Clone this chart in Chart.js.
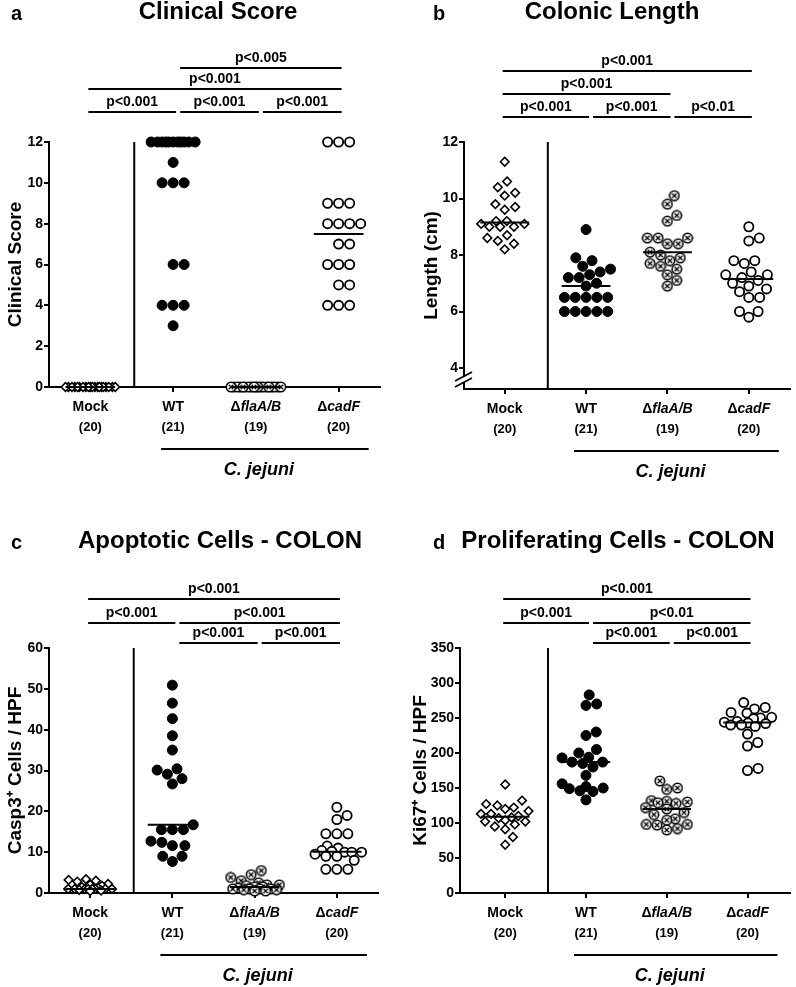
<!DOCTYPE html>
<html>
<head>
<meta charset="utf-8">
<script src="https://cdn.jsdelivr.net/npm/chart.js@4.4.1/dist/chart.umd.min.js"></script>
<style>
  body { margin: 0; background: #fff; }
  #wrap { position: relative; width: 796px; height: 987px; }
  canvas { position: absolute; }
</style>
</head>
<body>
<div id="wrap">
  <canvas id="pa" width="398" height="494" style="left:0;top:0"></canvas>
  <canvas id="pb" width="398" height="494" style="left:398px;top:0"></canvas>
  <canvas id="pc" width="398" height="494" style="left:0;top:493px"></canvas>
  <canvas id="pd" width="398" height="494" style="left:398px;top:493px"></canvas>
</div>
<script>
// groups and group sizes
const groups = ['Mock', 'WT', 'ΔflaA/B', 'ΔcadF'];
const groupN = ['(20)', '(21)', '(19)', '(20)'];
const infection = 'C. jejuni';

// a - clinical score
const scoreMock = [0, 0, 0, 0, 0, 0, 0, 0, 0, 0, 0, 0, 0, 0, 0, 0, 0, 0, 0, 0];
const scoreWT = [12, 12, 12, 12, 12, 12, 12, 12, 12, 12, 12, 11, 10, 10, 10, 6, 6, 4, 4, 4, 3];
const scoreFla = [0, 0, 0, 0, 0, 0, 0, 0, 0, 0, 0, 0, 0, 0, 0, 0, 0, 0, 0];
const scoreCad = [12, 12, 12, 9, 9, 9, 8, 8, 8, 8, 7, 7, 6, 6, 6, 5, 5, 4, 4, 4];
const scoreTicks = [0, 2, 4, 6, 8, 10, 12];
// [from group, to group, level, text]
const scoreP = [[0, 1, 0, 'p<0.001'], [1, 2, 0, 'p<0.001'], [2, 3, 0, 'p<0.001'],
                [0, 3, 1, 'p<0.001'], [1, 3, 2, 'p<0.005']];

// b - colonic length (cm)
const lengthMock = [11.3, 10.6, 10.4, 10.2, 10.1, 9.8, 9.7, 9.6, 9.2, 9.2, 9.1, 9.1, 9.0, 9.0, 9.0, 8.7, 8.6, 8.5, 8.4, 8.2];
const lengthWT = [8.9, 7.9, 7.8, 7.6, 7.5, 7.4, 7.3, 7.2, 7.2, 7.0, 6.9, 6.5, 6.5, 6.5, 6.5, 6.5, 6.0, 6.0, 6.0, 6.0, 6.0];
const lengthFla = [10.1, 9.8, 9.4, 9.2, 8.6, 8.6, 8.6, 8.4, 8.4, 8.1, 8.0, 7.9, 7.8, 7.7, 7.6, 7.5, 7.3, 7.1, 6.9];
const lengthCad = [9.0, 8.6, 8.5, 7.8, 7.8, 7.7, 7.4, 7.3, 7.3, 7.2, 7.1, 7.0, 6.9, 6.8, 6.7, 6.5, 6.5, 6.0, 6.0, 5.8];
const lengthTicks = [4, 6, 8, 10, 12];
const lengthP = [[0, 1, 0, 'p<0.001'], [1, 2, 0, 'p<0.001'], [2, 3, 0, 'p<0.01'],
                 [0, 2, 1, 'p<0.001'], [0, 3, 2, 'p<0.001']];

// c - Casp3+ cells / HPF
const caspMock = [3.4, 3.2, 3.0, 2.8, 2.2, 2.0, 1.8, 1.5, 1.2, 1.0, 1.0, 1.0, 1.0, 1.0, 1.0, 1.0, 1.0, 0.8, 0.6, 0.5];
const caspWT = [50.9, 46.5, 42.7, 38.5, 35.0, 30.4, 30.1, 29.1, 28.0, 26.7, 16.7, 15.5, 15.5, 15.5, 12.7, 12.4, 11.6, 11.6, 9.0, 9.0, 7.7];
const caspFla = [5.5, 4.5, 3.8, 3.0, 2.5, 2.0, 2.0, 1.8, 1.5, 1.5, 1.2, 1.0, 1.0, 1.0, 1.0, 0.8, 0.8, 0.5, 0.5];
const caspCad = [21.0, 19.0, 18.0, 14.5, 14.5, 14.5, 11.5, 11.0, 10.4, 10.2, 10.0, 10.0, 10.0, 9.5, 9.0, 9.0, 8.0, 5.8, 5.8, 5.8];
const caspTicks = [0, 10, 20, 30, 40, 50, 60];
const caspP = [[1, 2, 0, 'p<0.001'], [2, 3, 0, 'p<0.001'],
               [0, 1, 1, 'p<0.001'], [1, 3, 1, 'p<0.001'], [0, 3, 2, 'p<0.001']];

// d - Ki67+ cells / HPF
const ki67Mock = [155, 132, 127, 125, 122, 120, 117, 113, 113, 110, 108, 107, 104, 102, 102, 98, 95, 91, 80, 69];
const ki67WT = [283, 270, 268, 230, 225, 205, 200, 194, 193, 187, 187, 185, 180, 168, 156, 152, 150, 149, 146, 145, 133];
const ki67Fla = [160, 150, 148, 132, 131, 130, 129, 128, 122, 120, 115, 112, 106, 104, 98, 98, 97, 92, 90];
const ki67Cad = [272, 265, 263, 258, 257, 251, 250, 249, 245, 244, 243, 242, 240, 240, 238, 227, 215, 210, 178, 175];
const ki67Ticks = [0, 50, 100, 150, 200, 250, 300, 350];
const ki67P = [[1, 2, 0, 'p<0.001'], [2, 3, 0, 'p<0.001'],
               [0, 1, 1, 'p<0.001'], [1, 3, 1, 'p<0.01'], [0, 3, 2, 'p<0.001']];

const FONT = '"Liberation Sans", Arial, Helvetica, sans-serif';
Chart.defaults.font.family = FONT;
Chart.defaults.color = '#000';

const W = 398, H = 494;

const panels = {
  pa: { letter: 'a', letterX: 11, title: 'Clinical Score', titleX: 218, titleY: 12,
        yTitle: 'Clinical Score', area: { l: 49, t: 142, r: 380, b: 387 }, padLeft: 0,
        xMin: -0.5, xMax: 3.5, yMin: 0, yMax: 12, yTicks: scoreTicks,
        series: [scoreMock, scoreWT, scoreFla, scoreCad], pvals: scoreP, levels: [112, 89, 68] },
  pb: { letter: 'b', letterX: 35, title: 'Colonic Length', titleX: 214, titleY: 12,
        yTitle: 'Length (cm)', area: { l: 66, t: 142, r: 397, b: 389 }, padLeft: 18,
        xMin: -0.5, xMax: 3.5, yMin: 3.257, yMax: 12, yTicks: lengthTicks, axisBreak: true,
        series: [lengthMock, lengthWT, lengthFla, lengthCad], pvals: lengthP, levels: [117, 94, 71] },
  pc: { letter: 'c', letterX: 11, title: 'Apoptotic Cells - COLON', titleX: 220, titleY: 48,
        yTitle: 'Casp3⁺ Cells / HPF', area: { l: 49, t: 155, r: 378, b: 400 }, padLeft: 0,
        xMin: -0.5, xMax: 3.5, yMin: 0, yMax: 60, yTicks: caspTicks,
        series: [caspMock, caspWT, caspFla, caspCad], pvals: caspP, levels: [150, 130, 106] },
  pd: { letter: 'd', letterX: 35, title: 'Proliferating Cells - COLON', titleX: 220, titleY: 48,
        yTitle: 'Ki67⁺ Cells / HPF', area: { l: 62, t: 155, r: 398, b: 400 }, padLeft: 7,
        xMin: -0.56, xMax: 3.52, yMin: 0, yMax: 350, yTicks: ki67Ticks,
        series: [ki67Mock, ki67WT, ki67Fla, ki67Cad], pvals: ki67P, levels: [150, 130, 106] }
};

function makeCrossCircle() {
  const c = document.createElement('canvas');
  c.width = 12; c.height = 12;
  const g = c.getContext('2d');
  g.fillStyle = '#fff'; g.strokeStyle = '#000'; g.lineWidth = 1.6;
  g.beginPath(); g.arc(6, 6, 4.7, 0, Math.PI * 2); g.fill(); g.stroke();
  g.lineWidth = 1.3;
  const k = 2.3;
  g.beginPath();
  g.moveTo(6 - k, 6 - k); g.lineTo(6 + k, 6 + k);
  g.moveTo(6 + k, 6 - k); g.lineTo(6 - k, 6 + k);
  g.stroke();
  return c;
}

const markers = [
  { pointStyle: 'rectRot', pointRadius: 4.3, pointBackgroundColor: '#fff', pointBorderColor: '#000', pointBorderWidth: 1.6 },
  { pointStyle: 'circle', pointRadius: 5, pointBackgroundColor: '#000', pointBorderColor: '#000', pointBorderWidth: 1 },
  { pointStyle: makeCrossCircle(), pointRadius: 5.5 },
  { pointStyle: 'circle', pointRadius: 4.6, pointBackgroundColor: '#fff', pointBorderColor: '#000', pointBorderWidth: 1.8 }
];

// column scatter: spread points sideways (pixels) so they don't overlap, squeezing rows that get too wide
function swarm(vals, pxPerUnit, D, maxHalf) {
  const order = vals.map((v, i) => i).sort((i, j) => vals[i] - vals[j]);
  const placed = [], out = [];
  for (const i of order) {
    const y = vals[i] * pxPerUnit;
    let x = null;
    for (let d = D; x === null && d > 1; d *= 0.8) {
      const cands = [0];
      placed.forEach(q => {
        const dy = Math.abs(q.y - y);
        if (dy < d) {
          const dx = Math.sqrt(d * d - dy * dy);
          cands.push(q.x + dx, q.x - dx);
        }
      });
      cands.sort((u, v) => Math.abs(u) - Math.abs(v));
      for (const c of cands) {
        if (Math.abs(c) > maxHalf) break;
        if (placed.every(q => (q.x - c) ** 2 + (q.y - y) ** 2 >= d * d - 0.01)) { x = c; break; }
      }
    }
    if (x === null) x = 0;
    placed.push({ x, y });
    out[i] = x;
  }
  return out;
}

function median(v) {
  const s = [...v].sort((a, b) => a - b), n = s.length;
  return n % 2 ? s[(n - 1) / 2] : (s[n / 2 - 1] + s[n / 2]) / 2;
}

function drawGroupName(ctx, text, x, y) {
  let head = '', tail = text;
  if (text.startsWith('Δ')) { head = 'Δ'; tail = text.slice(1); }
  const f1 = 'bold 14px ' + FONT, f2 = 'italic bold 14px ' + FONT;
  ctx.font = f1;
  const w1 = ctx.measureText(head).width;
  ctx.font = head ? f2 : f1;
  const w2 = ctx.measureText(tail).width;
  const x0 = x - (w1 + w2) / 2;
  ctx.textAlign = 'left';
  ctx.font = f1; ctx.fillText(head, x0, y);
  ctx.font = head ? f2 : f1; ctx.fillText(tail, x0 + w1, y);
}

const deco = {
  id: 'deco',
  beforeDatasetsDraw(chart) {
    const ctx = chart.ctx, ar = chart.chartArea;
    const x = chart.scales.x.getPixelForValue(0.53);
    ctx.save();
    ctx.strokeStyle = '#000'; ctx.lineWidth = 2;
    ctx.beginPath(); ctx.moveTo(x, ar.top); ctx.lineTo(x, ar.bottom); ctx.stroke();
    ctx.restore();
  },
  afterDraw(chart) {
    const p = panels[chart.canvas.id], ctx = chart.ctx, xs = chart.scales.x, ar = chart.chartArea;
    ctx.save();
    ctx.fillStyle = '#000'; ctx.strokeStyle = '#000'; ctx.lineWidth = 2;

    // panel letter + title
    ctx.textBaseline = 'middle';
    ctx.font = 'bold 20px ' + FONT; ctx.textAlign = 'left';
    ctx.fillText(p.letter, p.letterX, p.titleY + 2);
    ctx.font = 'bold 24px ' + FONT; ctx.textAlign = 'center';
    ctx.fillText(p.title, p.titleX, p.titleY);

    // significance bars
    ctx.font = 'bold 14px ' + FONT; ctx.textBaseline = 'alphabetic'; ctx.textAlign = 'center';
    p.pvals.forEach(([g1, g2, lvl, txt]) => {
      const x1 = xs.getPixelForValue(g1) + (g1 ? 7 : -2);
      const x2 = xs.getPixelForValue(g2) + 3;
      const y = p.levels[lvl];
      ctx.beginPath(); ctx.moveTo(x1, y); ctx.lineTo(x2, y); ctx.stroke();
      ctx.fillText(txt, (x1 + x2) / 2, y - 6);
    });

    // group labels
    ctx.textBaseline = 'middle';
    groups.forEach((name, g) => {
      const x = xs.getPixelForValue(g);
      drawGroupName(ctx, name, x, ar.bottom + 20);
      ctx.font = 'bold 13px ' + FONT; ctx.textAlign = 'center';
      ctx.fillText(groupN[g], x, ar.bottom + 40);
    });

    // infected groups bar
    const j1 = xs.getPixelForValue(1) - 12, j2 = xs.getPixelForValue(3) + 30;
    ctx.beginPath(); ctx.moveTo(j1, ar.bottom + 62); ctx.lineTo(j2, ar.bottom + 62); ctx.stroke();
    ctx.font = 'italic bold 18px ' + FONT; ctx.textAlign = 'center';
    ctx.fillText(infection, (xs.getPixelForValue(1) + xs.getPixelForValue(3)) / 2 + 3, ar.bottom + 83);

    // y axis break
    if (p.axisBreak) {
      const x = ar.left, b = ar.bottom;
      ctx.fillStyle = '#fff';
      ctx.fillRect(x - 2, b - 12, 4, 5);
      ctx.lineWidth = 1.8;
      ctx.beginPath();
      ctx.moveTo(x - 9, b - 8); ctx.lineTo(x + 8, b - 17);
      ctx.moveTo(x - 9, b - 2); ctx.lineTo(x + 8, b - 11);
      ctx.stroke();
    }
    ctx.restore();
  }
};

function build(id) {
  const p = panels[id], a = p.area;
  const pxY = (a.b - a.t) / (p.yMax - p.yMin);
  const pxX = (a.r - a.l) / (p.xMax - p.xMin);
  const datasets = [];
  p.series.forEach((vals, g) => {
    const off = swarm(vals, pxY, 11, 25);
    datasets.push(Object.assign({
      type: 'scatter',
      data: vals.map((v, i) => ({ x: g + off[i] / pxX, y: v })),
      order: 1,
      clip: false
    }, markers[g]));
    const m = median(vals);
    datasets.push({
      type: 'line',
      data: [{ x: g - 0.3, y: m }, { x: g + 0.3, y: m }],
      borderColor: '#000', borderWidth: 2, pointRadius: 0, order: 0, clip: false
    });
  });

  const grid = { display: true, drawOnChartArea: false, drawTicks: true, tickLength: 5, color: '#000', lineWidth: 2 };
  const border = { display: true, color: '#000', width: 2 };

  new Chart(document.getElementById(id), {
    type: 'scatter',
    data: { datasets },
    options: {
      responsive: false,
      animation: false,
      devicePixelRatio: 1,
      layout: { padding: { left: p.padLeft, top: a.t, right: W - a.r, bottom: 0 } },
      plugins: { legend: { display: false }, tooltip: { enabled: false } },
      scales: {
        x: {
          type: 'linear', min: p.xMin, max: p.xMax,
          afterBuildTicks: s => { s.ticks = groups.map((n, i) => ({ value: i })); },
          afterFit: s => { s.height = H - a.b; },
          ticks: { callback: () => '', padding: 0 },
          grid, border
        },
        y: {
          type: 'linear', min: p.yMin, max: p.yMax,
          afterBuildTicks: s => { s.ticks = p.yTicks.map(v => ({ value: v })); },
          afterFit: s => { s.width = a.l - p.padLeft; },
          ticks: { font: { size: 14, weight: 'bold' }, color: '#000', padding: 1 },
          grid, border,
          title: { display: true, text: p.yTitle, color: '#000', font: { size: 19, weight: 'bold' }, padding: { top: 4, bottom: 0 } }
        }
      }
    },
    plugins: [deco]
  });
}

['pa', 'pb', 'pc', 'pd'].forEach(build);
</script>
</body>
</html>
